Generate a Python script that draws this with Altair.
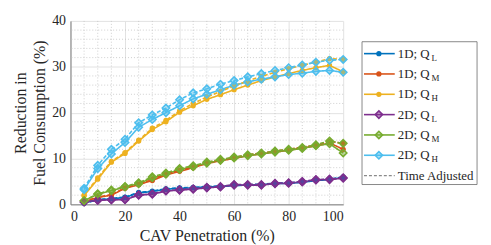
import altair as alt
import pandas as pd

cav = [5, 10, 15, 20, 25, 30, 35, 40, 45, 50, 55, 60, 65, 70, 75, 80, 85, 90, 95, 100]

names = ["1D; QL", "1D; QM", "1D; QH", "2D; QL", "2D; QM", "2D; QH"]
colors = ["#0072BD", "#D95319", "#EDB120", "#7E2F8E", "#77AC30", "#4DBEEE"]

base_1d_ql = [0.3, 1.0, 1.2, 1.5, 2.5, 2.8, 3.3, 3.5, 3.6, 3.8, 3.9, 4.1, 4.2, 4.3, 4.5, 4.6, 4.8, 5.2, 5.4, 5.9]
base_1d_qm = [0.6, 1.5, 2.0, 3.5, 4.3, 5.2, 6.4, 7.2, 8.0, 8.9, 9.5, 10.0, 10.6, 11.0, 11.4, 11.8, 12.3, 12.7, 13.4, 12.0]
base_1d_qh = [1.9, 5.5, 9.2, 11.1, 13.8, 16.3, 18.0, 20.1, 21.5, 22.9, 23.9, 25.0, 26.0, 27.0, 27.8, 28.5, 29.2, 29.8, 30.3, 28.9]
base_2d_ql = [0.5, 0.9, 1.0, 1.0, 2.0, 2.2, 2.9, 3.1, 3.3, 3.6, 3.8, 4.2, 4.2, 4.2, 4.5, 4.6, 4.9, 5.3, 5.4, 5.7]
base_2d_qm = [0.8, 2.2, 3.0, 3.8, 4.5, 5.8, 6.6, 7.6, 8.2, 9.0, 9.6, 10.1, 10.6, 11.0, 11.4, 11.8, 12.2, 12.8, 13.2, 11.2]
base_2d_qh = [3.2, 7.8, 11.0, 13.5, 16.8, 18.5, 20.0, 21.5, 23.0, 24.0, 25.0, 26.0, 26.7, 27.3, 27.8, 28.3, 28.6, 29.0, 29.2, 28.8]

adj_1d_ql = [0.3, 1.0, 1.3, 1.6, 2.6, 2.9, 3.4, 3.6, 3.7, 3.9, 4.0, 4.2, 4.3, 4.4, 4.6, 4.7, 4.9, 5.3, 5.5, 6.0]
adj_1d_qm = [0.6, 1.6, 2.1, 3.6, 4.4, 5.4, 6.6, 7.4, 8.2, 9.1, 9.7, 10.2, 10.8, 11.2, 11.6, 12.0, 12.5, 12.9, 13.7, 13.3]
adj_1d_qh = [2.0, 5.8, 9.4, 11.3, 14.0, 16.6, 18.3, 20.4, 22.0, 23.4, 24.6, 25.8, 26.9, 27.9, 28.8, 29.6, 30.3, 31.0, 31.8, 31.6]
adj_2d_ql = [0.5, 0.9, 1.0, 1.1, 2.1, 2.3, 3.0, 3.2, 3.4, 3.7, 3.9, 4.3, 4.3, 4.3, 4.6, 4.7, 5.0, 5.4, 5.5, 5.8]
adj_2d_qm = [0.8, 2.3, 3.1, 3.9, 4.7, 6.0, 6.8, 7.8, 8.4, 9.2, 9.8, 10.3, 10.8, 11.2, 11.6, 12.0, 12.4, 13.0, 13.8, 13.3]
adj_2d_qh = [3.5, 8.5, 12.0, 14.2, 17.8, 19.5, 21.0, 22.8, 24.3, 25.2, 26.2, 27.0, 27.8, 28.5, 29.2, 29.8, 30.4, 31.0, 31.4, 31.6]

base = [base_1d_ql, base_1d_qm, base_1d_qh, base_2d_ql, base_2d_qm, base_2d_qh]
adj = [adj_1d_ql, adj_1d_qm, adj_1d_qh, adj_2d_ql, adj_2d_qm, adj_2d_qh]

x_ticks = [0, 20, 40, 60, 80, 100]
y_ticks = [0, 10, 20, 30, 40]
x_minor = [5, 10, 15, 25, 30, 35, 45, 50, 55, 65, 70, 75, 85, 90, 95]
y_minor = [2, 4, 6, 8, 12, 14, 16, 18, 22, 24, 26, 28, 32, 34, 36, 38]

FONT = "Liberation Serif"

rows = []
for kind, group in (("solid", base), ("dashed", adj)):
    for name, vals in zip(names, group):
        for c, v in zip(cav, vals):
            rows.append({"cav": c, "val": v, "series": name, "dim": name[:2],
                         "kind": kind, "key": name + kind})
df = pd.DataFrame(rows)

cscale = alt.Scale(domain=names, range=colors)
color = alt.Color("series:N", scale=cscale, legend=None)
fill = alt.Fill("series:N", scale=cscale, legend=None)
stroke = alt.Stroke("series:N", scale=cscale, legend=None)
xenc = alt.X("cav:Q", scale=alt.Scale(domain=[0, 100], nice=False),
             axis=alt.Axis(values=x_ticks, title="CAV Penetration (%)"))
yenc = alt.Y("val:Q", scale=alt.Scale(domain=[0, 40], nice=False),
             axis=alt.Axis(values=y_ticks, title=["Reduction in", "Fuel Consumption (%)"]))

gx = alt.Chart(pd.DataFrame({"g": x_minor})).mark_rule(
    color="#c4c4c4", strokeDash=[1, 2], strokeWidth=0.8).encode(x="g:Q")
gy = alt.Chart(pd.DataFrame({"g": y_minor})).mark_rule(
    color="#c4c4c4", strokeDash=[1, 2], strokeWidth=0.8).encode(y="g:Q")

lines = alt.Chart(df).mark_line(strokeWidth=1.6).encode(
    x=xenc, y=yenc, color=color, detail="key:N",
    strokeDash=alt.StrokeDash("kind:N", scale=alt.Scale(domain=["solid", "dashed"],
                                                        range=[[1, 0], [4, 2]]), legend=None),
)
pts1 = alt.Chart(df).transform_filter(alt.datum.dim == "1D").mark_point(
    shape="circle", filled=True, size=28, opacity=1).encode(x="cav:Q", y="val:Q", color=color)
pts2 = alt.Chart(df).transform_filter(alt.datum.dim == "2D").mark_point(
    shape="diamond", filled=True, size=55, strokeWidth=1.6, fillOpacity=0.45,
    strokeOpacity=1).encode(x="cav:Q", y="val:Q", fill=fill, stroke=stroke)

data_layer = alt.layer(gx, gy, lines, pts1, pts2)

# legend
leg = pd.DataFrame({"series": names, "row": list(range(6)),
                    "main": ["1D; Q"] * 3 + ["2D; Q"] * 3,
                    "sub": ["L", "M", "H"] * 2, "dim": [n[:2] for n in names]})
leg_t = pd.DataFrame({"row": [6], "main": ["Time Adjusted"]})
ly = alt.Y("row:Q", scale=alt.Scale(domain=[0, 6], range=[33, 156]), axis=None)

box = alt.Chart(pd.DataFrame({"a": [0]})).mark_rect(
    fill="white", stroke="#6a6a6a", strokeWidth=0.8).encode(
    x=alt.value(294), x2=alt.value(410), y=alt.value(21), y2=alt.value(165))
lrule = alt.Chart(leg).mark_rule(strokeWidth=1.6).encode(
    x=alt.value(296), x2=alt.value(327), y=ly, color=color)
lp1 = alt.Chart(leg).transform_filter(alt.datum.dim == "1D").mark_point(
    shape="circle", filled=True, size=28, opacity=1).encode(x=alt.value(311), y=ly, color=color)
lp2 = alt.Chart(leg).transform_filter(alt.datum.dim == "2D").mark_point(
    shape="diamond", filled=True, size=55, strokeWidth=1.6, fillOpacity=0.45,
    strokeOpacity=1).encode(x=alt.value(311), y=ly, fill=fill, stroke=stroke)
ltext = alt.Chart(leg).mark_text(align="left", baseline="middle", font=FONT, fontSize=13,
                                 color="#262626").encode(x=alt.value(330), y=ly, text="main:N")
lsub = alt.Chart(leg).mark_text(align="left", baseline="middle", font=FONT, fontSize=9,
                                dy=4, color="#262626").encode(x=alt.value(364), y=ly, text="sub:N")
trule = alt.Chart(leg_t).mark_rule(strokeWidth=1.2, strokeDash=[3, 2], color="#8a8a8a").encode(
    x=alt.value(296), x2=alt.value(327), y=ly)
ttext = alt.Chart(leg_t).mark_text(align="left", baseline="middle", font=FONT, fontSize=13,
                                   color="#262626").encode(x=alt.value(330), y=ly, text="main:N")

legend_layer = alt.layer(box, lrule, lp1, lp2, ltext, lsub, trule, ttext)

chart = alt.layer(data_layer, legend_layer).resolve_scale(y="independent").properties(
    width=275, height=185
).configure_view(strokeWidth=0).configure_axis(
    labelFont=FONT, titleFont=FONT, labelFontSize=14, titleFontSize=16,
    labelColor="#262626", titleColor="#262626", titleFontWeight="normal",
    domainColor="#7a7a7a", domainWidth=1, ticks=False, gridColor="#e2e2e2",
    labelPadding=5, titlePadding=4, titleLineHeight=19,
)

chart.save("out.html", embed_options={"renderer": "svg", "actions": False})
